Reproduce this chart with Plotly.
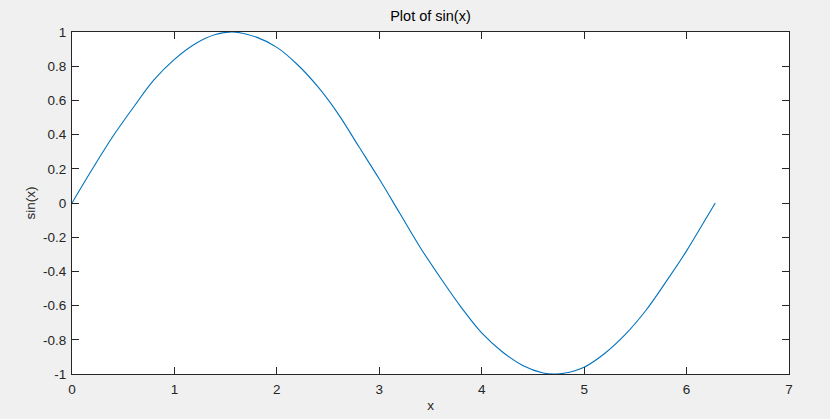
import plotly.graph_objects as go

# points
x_vals = [0, 0.2, 0.4, 0.6, 0.8, 1.0, 1.2, 1.4, 1.57, 1.8, 2.0, 2.2, 2.4, 2.6, 2.8,
          3.0, 3.2, 3.4, 3.6, 3.8, 4.0, 4.2, 4.4, 4.6, 4.71, 4.8, 5.0, 5.2, 5.4,
          5.6, 5.8, 6.0, 6.2, 6.28]
y_vals = [0, 0.2, 0.39, 0.56, 0.72, 0.84, 0.93, 0.985, 1.0, 0.97, 0.91, 0.81, 0.68,
          0.52, 0.33, 0.14, -0.06, -0.26, -0.44, -0.61, -0.76, -0.87, -0.95, -0.994,
          -1.0, -0.996, -0.96, -0.88, -0.77, -0.63, -0.46, -0.28, -0.08, 0.0]

x_ticks = [0, 1, 2, 3, 4, 5, 6, 7]
y_ticks = [1, 0.8, 0.6, 0.4, 0.2, 0, -0.2, -0.4, -0.6, -0.8, -1]
y_tick_labels = ['1', '0.8', '0.6', '0.4', '0.2', '0', '-0.2', '-0.4', '-0.6', '-0.8', '-1']

axis_color = '#262626'
font = dict(family='Liberation Sans, Arial, sans-serif', size=13.5, color=axis_color)

fig = go.Figure()
fig.add_trace(go.Scatter(x=x_vals, y=y_vals, mode='lines',
                         line=dict(color='#0072BD', width=1.1, shape='spline'),
                         showlegend=False))

common_axis = dict(showline=True, linecolor=axis_color, linewidth=1, mirror='ticks',
                   ticks='inside', ticklen=7, tickcolor=axis_color, tickwidth=1,
                   showgrid=False, zeroline=False, tickfont=font, automargin=False)

fig.update_xaxes(range=[0, 7], tickvals=x_ticks, ticklabelstandoff=3,
                 title=dict(text='x', font=font, standoff=4), **common_axis)
fig.update_yaxes(range=[-1, 1], tickvals=y_ticks, ticktext=y_tick_labels,
                 ticklabelstandoff=2,
                 title=dict(text='sin(x)', font=font, standoff=4), **common_axis)

fig.update_layout(
    width=830, height=419,
    margin=dict(l=72, r=41, t=32, b=45),
    paper_bgcolor='#f0f0f0',
    plot_bgcolor='white',
    font=font,
    title=dict(text='Plot of sin(x)', x=0.5, xref='paper', y=1, yref='container',
               yanchor='top', pad=dict(t=11), font=dict(size=14.5, color='black',
               family='Liberation Sans, Arial, sans-serif')),
)

# drop the browser's default page margin so the figure sits at the corner
fig.write_html("out.html", config={'displayModeBar': False},
               post_script="document.body.style.margin='0';"
                           "document.body.style.background='#f0f0f0';")
